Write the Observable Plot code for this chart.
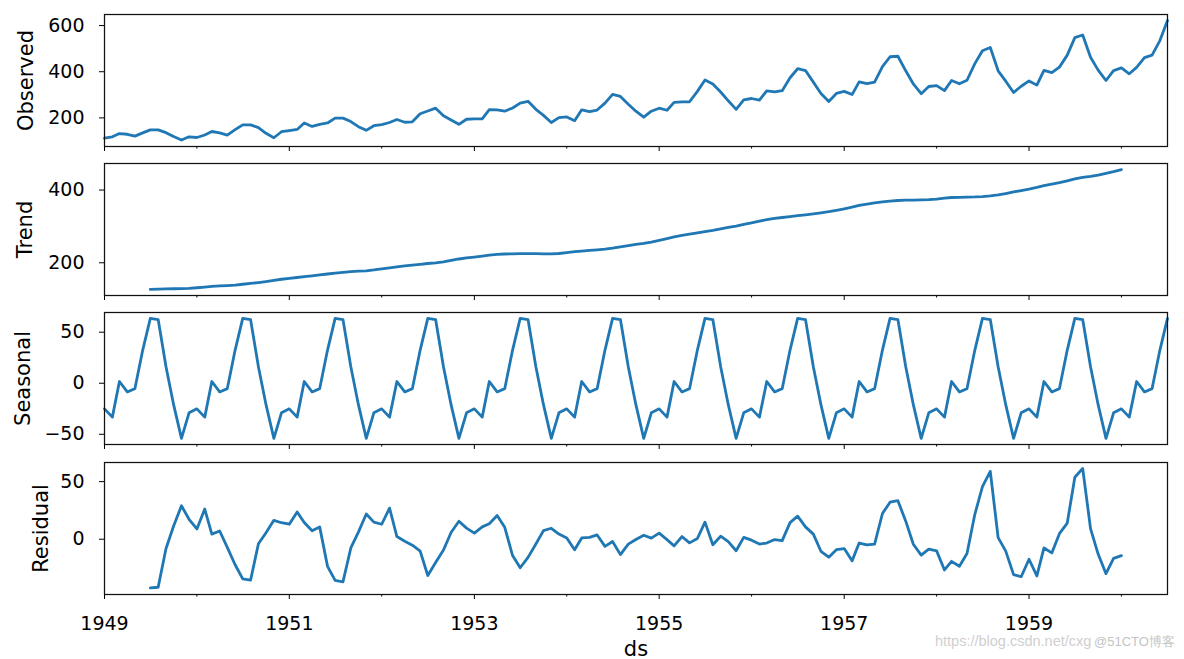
<!DOCTYPE html>
<html>
<head>
<meta charset="utf-8">
<script src="https://cdn.jsdelivr.net/npm/d3@7"></script>
<script src="https://cdn.jsdelivr.net/npm/@observablehq/plot@0.6"></script>
<style>
  body { margin: 0; background: #fff; }
  #wrap { position: relative; width: 1184px; height: 659px; overflow: hidden; background: #fff; }
  #wrap svg { position: absolute; left: 0; }
  .wm { position: absolute; color: #cfcfcf; font-family: "Liberation Sans", Arial, sans-serif; font-size: 14.5px; white-space: nowrap; }
</style>
</head>
<body>
<div id="wrap"></div>
<script>
// Monthly airline passengers, Jan 1949 .. Jul 1960
const startYear = 1949;
const observed = [
  112,118,132,129,121,135,148,148,136,119,104,118,
  115,126,141,135,125,149,170,170,158,133,114,140,
  145,150,178,163,172,178,199,199,184,162,146,166,
  171,180,193,181,183,218,230,242,209,191,172,194,
  196,196,236,235,229,243,264,272,237,211,180,201,
  204,188,235,227,234,264,302,293,259,229,203,229,
  242,233,267,269,270,315,364,347,312,274,237,278,
  284,277,317,313,318,374,413,405,355,306,271,306,
  315,301,356,348,355,422,465,467,404,347,305,336,
  340,318,362,348,363,435,491,505,404,359,310,337,
  360,342,406,396,420,472,548,559,463,407,362,405,
  417,391,419,461,472,535,622
];
// Trend starts Jul 1949 (month index 6)
const trendStart = 6;
const trend = [
  126.8,127.3,128.0,128.6,129.0,129.8,131.3,133.1,134.9,136.4,137.4,138.8,
  140.9,143.2,145.7,148.4,151.5,154.7,157.1,159.5,161.8,164.1,166.7,169.1,
  171.3,173.6,175.5,176.8,178.0,180.2,183.1,186.2,189.0,191.3,193.6,195.8,
  198.0,199.8,202.2,206.3,210.4,213.4,215.8,218.5,220.9,222.9,224.1,224.7,
  225.3,225.3,225.0,224.6,224.5,225.5,228.0,230.5,232.3,233.9,235.6,237.8,
  240.5,244.0,247.2,250.3,253.5,257.1,261.8,266.7,271.1,275.2,278.5,282.0,
  285.8,289.3,293.3,297.2,301.0,305.5,310.0,314.4,318.6,321.8,324.5,327.1,
  329.5,331.8,334.5,337.5,340.5,344.1,348.3,353.0,357.6,361.4,364.5,367.2,
  369.5,371.2,372.2,372.4,372.8,373.6,375.3,377.9,379.5,380.0,380.7,381.0,
  381.8,383.7,386.5,390.3,394.7,398.6,402.5,407.2,411.9,416.3,420.5,425.5,
  430.7,435.1,437.7,441.0,445.8,450.6,456.3
];
// Seasonal component, Jan..Dec (repeats every year)
const seasonalByMonth = [-25.1,-33.2,1.7,-8.5,-5.3,32.5,63.5,62.4,16.1,-21.0,-54.0,-29.0];
// Residual starts Jul 1949 (month index 6)
const residualStart = 6;
const residual = [
  -42.2,-41.7,-8.1,11.5,29.0,17.3,
  8.9,26.2,4.4,7.1,-7.1,-22.2,-34.4,-35.6,-3.9,5.6,16.4,14.3,
  13.0,23.7,14.5,7.3,10.7,-23.6,-35.7,-37.0,-7.6,6.2,21.9,14.8,
  13.0,27.0,2.3,-1.8,-5.2,-10.3,-31.5,-20.2,-9.4,5.8,15.6,9.6,
  5.3,10.7,13.4,20.6,10.3,-14.2,-24.8,-15.8,-4.1,7.5,9.5,4.5,
  1.1,-9.2,1.1,1.6,3.7,-6.2,-2.0,-13.4,-4.3,-0.2,3.5,0.9,
  5.3,-0.4,-5.8,2.3,-3.2,0.6,14.8,-4.8,2.6,-2.1,-10.0,1.6,
  -0.8,-4.2,-3.3,-0.3,-1.2,14.4,20.0,10.7,4.4,-10.5,-15.6,-9.1,
  -8.1,-18.8,-3.3,-4.9,-4.2,22.3,32.1,33.4,15.7,-4.4,-13.8,-8.6,
  -10.1,-26.7,-19.2,-23.5,-12.4,21.6,45.7,58.9,1.4,-10.3,-30.7,-32.6,
  -17.4,-31.9,-7.6,-11.9,4.8,14.0,53.8,61.4,9.2,-12.9,-29.9,-16.6,
  -14.2
];
const panelLabels = ["Observed", "Trend", "Seasonal", "Residual"];
const yTickValues = [[200, 400, 600], [200, 400], [-50, 0, 50], [0, 50]];
const majorYears = [1949, 1951, 1953, 1955, 1957, 1959];
const minorYears = [1950, 1952, 1954, 1956, 1958, 1960];
const xLabel = "ds";

const monthDate = i => new Date(Date.UTC(startYear + Math.floor(i / 12), i % 12, 1));
const yearDate = y => new Date(Date.UTC(y, 0, 1));
const xDomain = [monthDate(0), monthDate(observed.length - 1)];

const seasonal = observed.map((_, i) => seasonalByMonth[i % 12]);

const series = [
  observed.map((v, i) => ({date: monthDate(i), v})),
  trend.map((v, j) => ({date: monthDate(j + trendStart), v})),
  seasonal.map((v, i) => ({date: monthDate(i), v})),
  residual.map((v, j) => ({date: monthDate(j + residualStart), v}))
];
const yDomains = [[76, 648], [110, 473], [-60, 69.3], [-48, 66.6]];
const panelTops = [14, 163, 312, 461.5];
const labelOffsets = [86, 87, 89, 71];
const fmt = d => (d < 0 ? "\u2212" + Math.abs(d) : String(d));

const wrap = document.getElementById("wrap");
const FONT = "DejaVu Sans, sans-serif";

series.forEach((data, k) => {
  const last = k === series.length - 1;
  const mt = 8, mb = last ? 659 - (panelTops[k] + 132) : 8;
  const chart = Plot.plot({
    width: 1184,
    height: 132 + mt + mb,
    marginLeft: 104, marginRight: 17, marginTop: mt, marginBottom: mb,
    style: {fontFamily: FONT, fontSize: "19px", color: "#000", background: "transparent", overflow: "visible"},
    x: {type: "utc", domain: xDomain},
    y: {domain: yDomains[k]},
    marks: [
      Plot.axisY(yTickValues[k], {tickSize: 5, tickPadding: 15, tickFormat: fmt, label: null, fontSize: 19, stroke: "#000"}),
      Plot.axisY([], {label: panelLabels[k], labelAnchor: "center", labelArrow: "none", labelOffset: labelOffsets[k], fontSize: 21}),
      Plot.axisX(majorYears.map(yearDate), last
        ? {tickSize: 5, tickPadding: 17, tickFormat: d => String(d.getUTCFullYear()), label: null, fontSize: 19}
        : {tickSize: 5, text: null, label: null}),
      Plot.axisX(minorYears.map(yearDate), {tickSize: 2.5, text: null, label: null}),
      ...(last ? [Plot.axisX([], {label: xLabel, labelAnchor: "center", labelArrow: "none", labelOffset: 61, fontSize: 21})] : []),
      Plot.lineY(data, {x: "date", y: "v", stroke: "#1f77b4", strokeWidth: 2.8}),
      Plot.frame({stroke: "#111", strokeWidth: 1.25})
    ]
  });
  chart.style.top = (panelTops[k] - mt) + "px";
  wrap.appendChild(chart);
});

const wm = document.createElement("div");
wm.className = "wm";
wm.style.left = "935px";
wm.style.top = "633px";
wm.textContent = "https://blog.csdn.net/cxg";
wrap.appendChild(wm);
const wm2 = document.createElement("div");
wm2.className = "wm";
wm2.style.left = "1094px";
wm2.style.top = "633px";
wm2.style.fontSize = "13px";
wm2.style.color = "#c4c4c4";
wm2.textContent = "@51CTO博客";
wrap.appendChild(wm2);
</script>
</body>
</html>
